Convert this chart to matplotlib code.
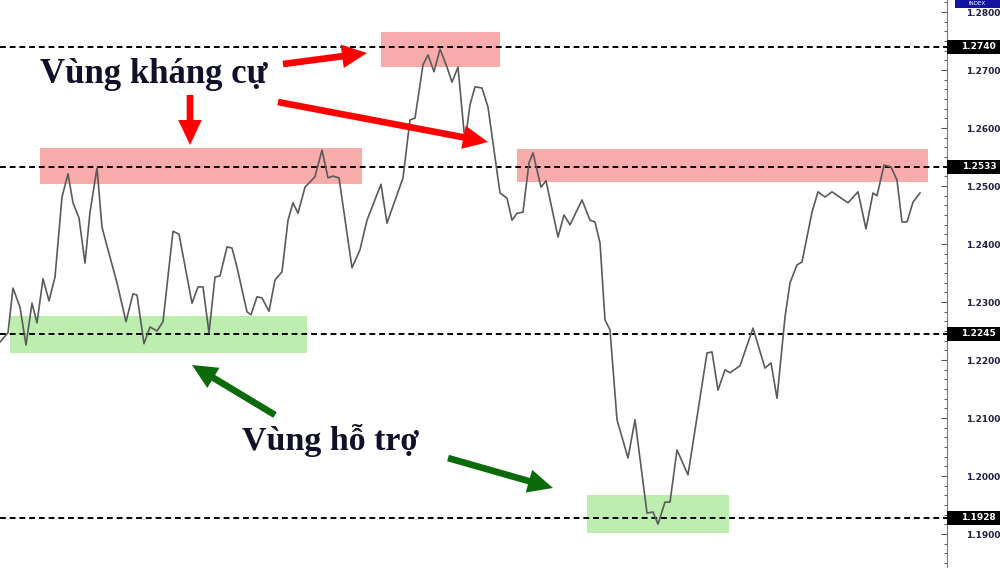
import matplotlib.pyplot as plt
from matplotlib.patches import Rectangle
from matplotlib.ticker import MultipleLocator
import matplotlib.transforms as mtransforms

# price path (bar position, close)
bars = [0, 8, 13, 20, 26, 32, 37, 43, 49, 55, 62, 68, 73, 79, 85, 90, 97, 102, 108, 117,
        126, 133, 137, 144, 150, 157, 163, 173, 179, 192, 198, 203, 209, 215, 220, 227, 232,
        237, 247, 251, 257, 262, 269, 275, 282, 288, 293, 298, 305, 315, 322, 328, 333, 339,
        352, 360, 367, 381, 387, 403, 410, 415, 423, 428, 434, 440, 447, 452, 458, 465, 470,
        475, 482, 488, 500, 507, 512, 517, 523, 529, 533, 541, 546, 558, 564, 570, 582, 590,
        595, 600, 605, 610, 617, 628, 635, 647, 653, 658, 665, 670, 677, 688, 707, 712, 718,
        725, 730, 740, 753, 765, 771, 777, 785, 790, 797, 802, 812, 818, 825, 832, 848, 858,
        866, 873, 877, 884, 891, 897, 902, 907, 913, 920]
prices = [1.2231, 1.2247, 1.2324, 1.2291, 1.2226, 1.2298, 1.2264, 1.2340, 1.2302, 1.2343,
          1.2481, 1.2521, 1.2471, 1.2445, 1.2367, 1.2455, 1.2531, 1.2429, 1.2390, 1.2333,
          1.2266, 1.2314, 1.2312, 1.2228, 1.2257, 1.2250, 1.2266, 1.2422, 1.2417, 1.2298,
          1.2326, 1.2326, 1.2247, 1.2343, 1.2345, 1.2395, 1.2393, 1.2360, 1.2283, 1.2278,
          1.2309, 1.2307, 1.2284, 1.2338, 1.2352, 1.2441, 1.2471, 1.2453, 1.2498, 1.2516,
          1.2562, 1.2514, 1.2517, 1.2514, 1.2359, 1.2390, 1.2441, 1.2503, 1.2436, 1.2514,
          1.2614, 1.2617, 1.2709, 1.2726, 1.2697, 1.2736, 1.2705, 1.2679, 1.2705, 1.2576,
          1.2640, 1.2671, 1.2669, 1.2636, 1.2488, 1.2479, 1.2441, 1.2453, 1.2455, 1.2540,
          1.2557, 1.2498, 1.2509, 1.2412, 1.2450, 1.2433, 1.2476, 1.2441, 1.2438, 1.2402,
          1.2269, 1.2252, 1.2097, 1.2031, 1.2097, 1.1936, 1.1938, 1.1917, 1.1955, 1.1955,
          1.2045, 1.2002, 1.2212, 1.2214, 1.2148, 1.2183, 1.2178, 1.2190, 1.2255, 1.2186,
          1.2195, 1.2134, 1.2274, 1.2333, 1.2364, 1.2369, 1.2455, 1.2490, 1.2481, 1.2490,
          1.2471, 1.2490, 1.2426, 1.2488, 1.2483, 1.2536, 1.2533, 1.2510, 1.2438, 1.2438,
          1.2472, 1.2488]

levels = [1.2740, 1.2533, 1.2245, 1.1928]
level_labels = ["1.2740", "1.2533", "1.2245", "1.1928"]

# shaded zones: (bar start, bar end, low, high)
resist_zones = [(40, 362, 1.2503, 1.2566), (381, 500, 1.2705, 1.2766), (517, 928, 1.2507, 1.2564)]
support_zones = [(10, 307, 1.2212, 1.2276), (587, 729, 1.1902, 1.1967)]

resist_text = "Vùng kháng cự"
support_text = "Vùng hỗ trợ"
resist_arrows = [((283, 1.27103), (367, 1.27293)),
                 ((190, 1.26569), (190, 1.25707)),
                 ((278, 1.26448), (488, 1.25759))]
support_arrows = [((275, 1.21052), (192, 1.21914)),
                  ((448, 1.20310), (553, 1.19793))]

fig = plt.figure(figsize=(10, 5.68), dpi=100)
ax = fig.add_axes([0, 0, 0.947, 1])
ax.set_xlim(0, 947)
ax.set_ylim(1.184138, 1.282069)

for x0, x1, lo, hi in resist_zones:
    ax.add_patch(Rectangle((x0, lo), x1 - x0, hi - lo, facecolor="#f8abab", edgecolor="none", zorder=1))
for x0, x1, lo, hi in support_zones:
    ax.add_patch(Rectangle((x0, lo), x1 - x0, hi - lo, facecolor="#bdeeb0", edgecolor="none", zorder=1))

for lv in levels:
    ax.axhline(lv, color="black", lw=1.4, ls=(0, (3, 2)), zorder=2)

ax.plot(bars, prices, color="#5a5a5a", lw=1.2, zorder=3)

# price labels in black boxes on the right axis
trans = mtransforms.blended_transform_factory(ax.transAxes, ax.transData)
for lv, lab in zip(levels, level_labels):
    ax.add_patch(Rectangle((1.0, lv - 0.0012), 0.06, 0.0024, transform=trans,
                           facecolor="black", edgecolor="none", clip_on=False, zorder=5))
    ax.text(1.052, lv, lab, transform=trans, ha="right", va="center", color="white",
            fontsize=6.5, fontweight="bold", clip_on=False, zorder=6)

# INDEX tag at the top right
fig.patches.append(Rectangle((0.955, 0.986), 0.045, 0.014, transform=fig.transFigure,
                             facecolor="#1414a0", edgecolor="none"))
fig.text(0.977, 0.993, "INDEX", ha="center", va="center", color="white", fontsize=4)

# text and arrows
ax.text(40, 1.26776, resist_text, fontsize=25, fontweight="bold", family="Liberation Serif",
        color="#101028", va="baseline", zorder=7)
ax.text(242, 1.20448, support_text, fontsize=24.5, fontweight="bold", family="Liberation Serif",
        color="#101028", va="baseline", zorder=7)

arrow_style = "simple,head_length=0.9,head_width=0.85,tail_width=0.24"
for start, end in resist_arrows:
    ax.annotate("", xy=end, xytext=start,
                arrowprops=dict(arrowstyle=arrow_style, mutation_scale=20, facecolor="#ff0000",
                                edgecolor="none", shrinkA=0, shrinkB=0), zorder=8)
for start, end in support_arrows:
    ax.annotate("", xy=end, xytext=start,
                arrowprops=dict(arrowstyle=arrow_style, mutation_scale=20, facecolor="#0b6b0b",
                                edgecolor="none", shrinkA=0, shrinkB=0), zorder=8)

# axis styling
for side in ["top", "left", "bottom"]:
    ax.spines[side].set_visible(False)
ax.spines["right"].set_color("#777777")
ax.set_xticks([])
ax.yaxis.tick_right()
ax.yaxis.set_major_locator(MultipleLocator(0.01))
ax.yaxis.set_minor_locator(MultipleLocator(0.01 / 6))
ax.yaxis.set_major_formatter(lambda v, p: f"{v:.4f}")
ax.tick_params(axis="y", which="major", direction="in", length=4, width=0.8,
               color="#555555", pad=13.5, labelsize=6.5, labelcolor="#202040")
ax.tick_params(axis="y", which="minor", direction="in", length=2.5, width=0.7, color="#555555")
for lab in ax.get_yticklabels():
    lab.set_fontweight("bold")

fig.savefig("out.png", dpi=100, facecolor="white")
